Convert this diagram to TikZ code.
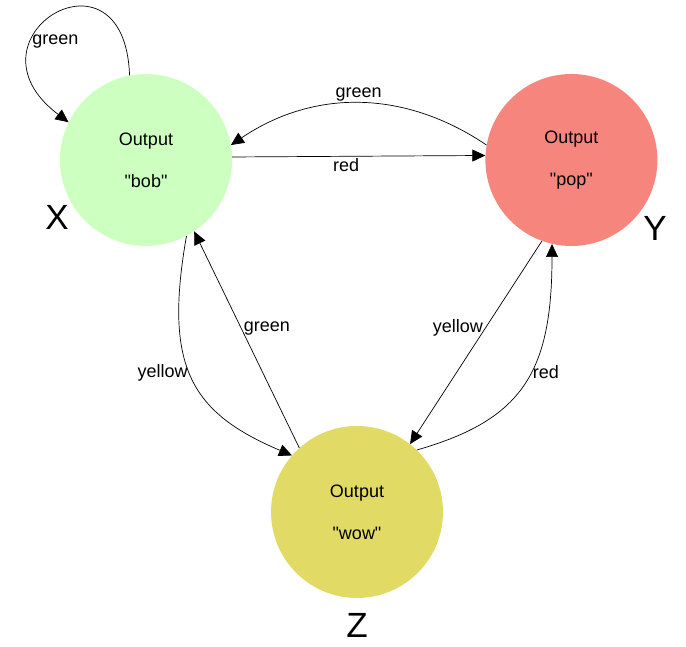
\documentclass[tikz,border=0pt]{standalone}
\usepackage{fontspec}
\setmainfont{Liberation Sans}
\usetikzlibrary{positioning, arrows.meta}
\definecolor{bobgreen}{RGB}{204,255,192}
\definecolor{popred}{RGB}{245,133,125}
\definecolor{wowyellow}{RGB}{225,219,101}
\tikzset{
    x=1pt, y=1pt,                               % one unit is one pixel of the picture
    >={Triangle[length=13pt,width=12pt]},       % big filled arrow heads
    every edge/.style={draw, ->, line width=0.7pt},
    outstate/.style={circle, minimum size=172pt, inner sep=0pt, align=center,
                     font=\fontsize{18}{42}\selectfont},
    statename/.style={font=\fontsize{35}{35}\selectfont, inner sep=0pt},
    lbl/.style={font=\fontsize{18}{20}\selectfont, inner sep=2pt},
}
\newcommand{\qword}[1]{\textquotedbl#1\textquotedbl}

\begin{document}
\begin{tikzpicture}
\useasboundingbox (0,0) rectangle (686,647);

\node[outstate, fill=bobgreen] (X) at (146,487) {Output\\\qword{bob}};
\node[outstate, fill=popred, right=253pt of X] (Y) {Output\\\qword{pop}};
\node[outstate, fill=wowyellow] (Z) at (357,135) {Output\\\qword{wow}};

\node[statename] (nX) at (57,430) {X};
\node[statename] (nY) at (655,419) {Y};
\node[statename] (nZ) at (357,22) {Z};

% loop on X
\draw[->, line width=0.7pt] (X.101) .. controls +(92:140) and +(143:140) ..
    node[lbl, pos=.5, below=18pt] {green} (X.154);

\draw
(X.2.7) edge node[lbl, pos=.45, below] {red} (Y.177.3)
(Y.170) edge[bend right=34] node[lbl, pos=.5, above] {green} (X.10)
(X.-62) edge[out=-100, in=157, out looseness=1.4, in looseness=1.15]
    node[lbl, pos=.47, left] {yellow} (Z.139.5)
(Z.132) edge node[lbl, pos=.55, right] {green} (X.-56)
(Y.-110) edge node[lbl, pos=.43, left] {yellow} (Z.52.7)
(Z.46) edge[out=16, in=-90, out looseness=1.13, in looseness=1.34]
    node[lbl, pos=.56, right] {red} (Y.-103);

\end{tikzpicture}
\end{document}
